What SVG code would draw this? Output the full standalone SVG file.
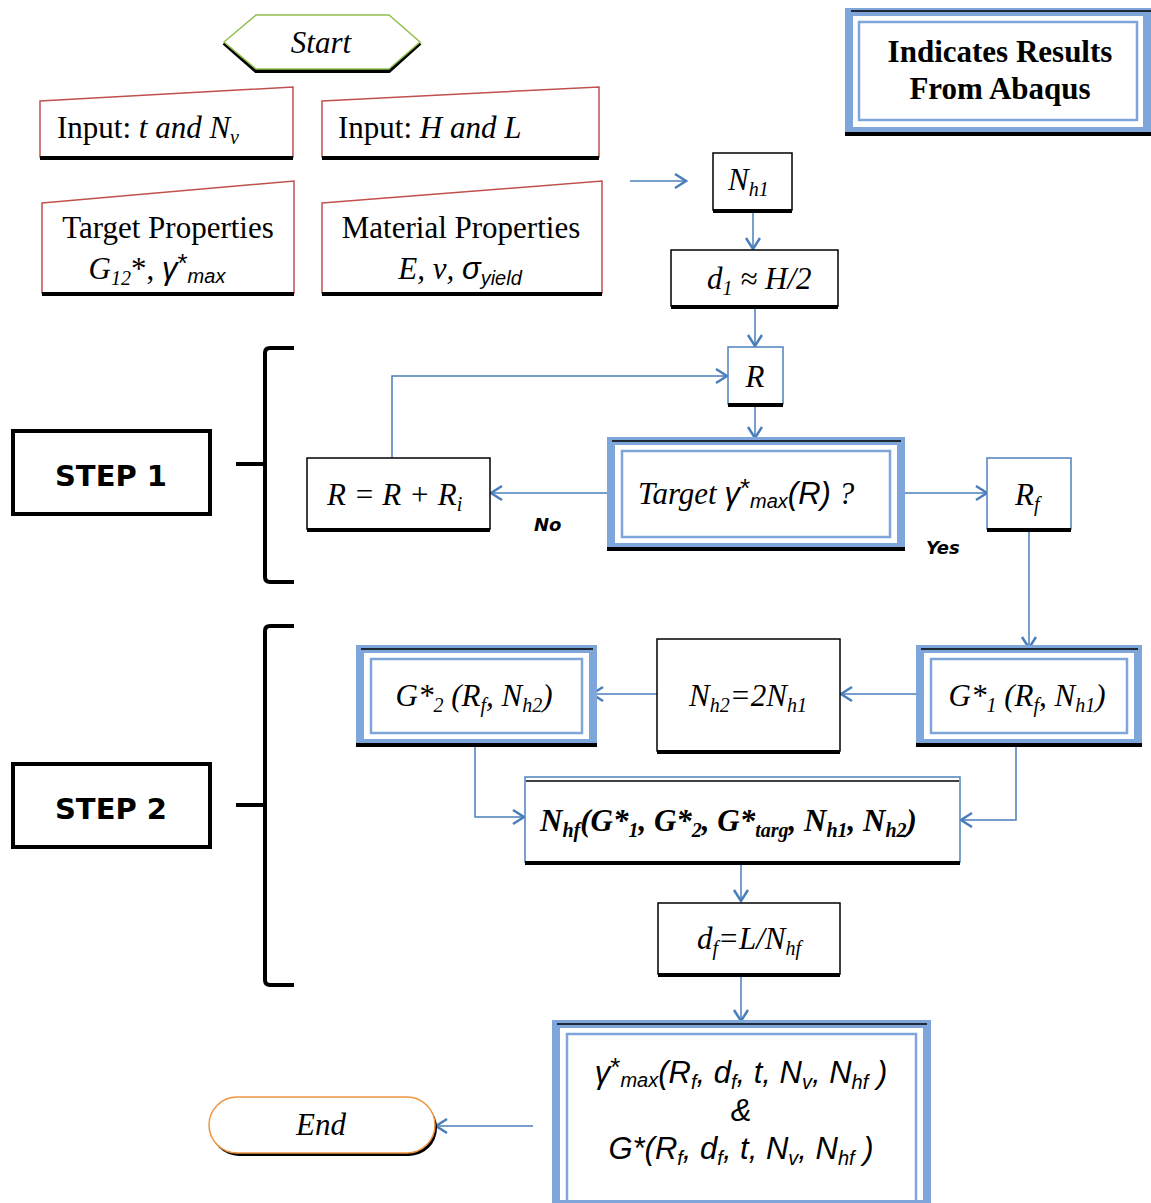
<svg xmlns="http://www.w3.org/2000/svg" width="1151" height="1203" viewBox="0 0 1151 1203">
<style>
.ser{font-family:"Liberation Serif","Times New Roman",serif;font-size:31px;fill:#000}
.it{font-style:italic}
.sans{font-family:"Liberation Sans",Arial,sans-serif}
.sub{font-size:20px}
.ast{font-size:26px}
.box{fill:#fff;stroke:#000;stroke-width:1.5}
.boxb{fill:#fff;stroke:#4f81bd;stroke-width:1.5}
.man{fill:#fff;stroke:#c0504d;stroke-width:1.5}
.sh{stroke:#000;stroke-width:4;fill:none}
.outer{fill:#fff;stroke:#7fa6da;stroke-width:8}
.inner{fill:none;stroke:#7fa6da;stroke-width:2.5}
.thin{stroke:#000;stroke-width:1.5}
.conn{stroke:#4a7ebb;stroke-width:1.5;fill:none}
.arr{marker-end:url(#ah)}
.step{font-family:"DejaVu Sans",Verdana,sans-serif;font-weight:bold;font-size:29px}
.lbl{font-family:"DejaVu Sans",Verdana,sans-serif;font-weight:bold;font-style:italic;font-size:18px}
.brace{fill:none;stroke:#000;stroke-width:4;stroke-linejoin:round}
.res{font-family:"Liberation Sans",Arial,sans-serif;font-style:italic;font-size:31px}
</style>
<defs>
<marker id="ah" markerWidth="20" markerHeight="20" refX="13" refY="8" orient="auto" markerUnits="userSpaceOnUse">
<path d="M2,1 L13,8 L2,15" fill="none" stroke="#4a7ebb" stroke-width="2.5"/>
</marker>
</defs>

<!-- connectors -->
<g id="connectors">
<line class="conn arr" x1="630" y1="181" x2="686" y2="181"/>
<line class="conn arr" x1="753" y1="212" x2="753" y2="249"/>
<line class="conn arr" x1="755" y1="308" x2="755" y2="346"/>
<line class="conn arr" x1="755" y1="407" x2="755" y2="438"/>
<line class="conn arr" x1="607" y1="493" x2="491" y2="493"/>
<polyline class="conn arr" points="392,458 392,376 727,376"/>
<line class="conn arr" x1="905" y1="493" x2="987" y2="493"/>
<line class="conn arr" x1="1029" y1="531" x2="1029" y2="648"/>
<line class="conn arr" x1="916" y1="694" x2="841" y2="694"/>
<line class="conn arr" x1="657" y1="694" x2="592" y2="694"/>
<polyline class="conn arr" points="475,737 475,817 524,817"/>
<polyline class="conn arr" points="1016,737 1016,820 961,820"/>
<line class="conn arr" x1="741" y1="865" x2="741" y2="901"/>
<line class="conn arr" x1="741" y1="976" x2="741" y2="1021"/>
<line class="conn arr" x1="533" y1="1126" x2="436" y2="1126"/>
</g>

<!-- Start -->
<g id="start">
<polyline points="224,43 256,71 389,71 420,43" fill="none" stroke="#000" stroke-width="4"/>
<polygon points="224,42 256,15 389,15 420,42 389,69 256,69" fill="#fff" stroke="#92c050" stroke-width="1.5"/>
<text class="ser it" x="321" y="53" text-anchor="middle">Start</text>
</g>

<!-- Legend -->
<g id="legend">
<rect class="outer" x="849" y="12" width="298" height="119"/>
<rect class="inner" x="859" y="22" width="278" height="98"/>
<line class="thin" x1="851" y1="11" x2="1151" y2="11"/>
<line class="sh" x1="845" y1="134" x2="1151" y2="134"/>
<text class="ser" font-weight="bold" font-size="32.5" x="1000" y="62" text-anchor="middle">Indicates Results</text>
<text class="ser" font-weight="bold" font-size="32.5" x="1000" y="99" text-anchor="middle">From Abaqus</text>
</g>

<!-- Inputs -->
<g id="input-t-nv">
<polygon class="man" points="40,101 293,87 293,157 40,157"/>
<line class="sh" x1="40" y1="158" x2="293" y2="158"/>
<text class="ser" x="57" y="138">Input: <tspan class="it">t and N</tspan><tspan class="it sub" dy="6">v</tspan></text>
</g>
<g id="input-h-l">
<polygon class="man" points="322,101 599,87 599,157 322,157"/>
<line class="sh" x1="322" y1="158" x2="599" y2="158"/>
<text class="ser" x="338" y="138">Input: <tspan class="it">H and L</tspan></text>
</g>
<g id="target-props">
<polygon class="man" points="42,203 294,181 294,293 42,293"/>
<line class="sh" x1="42" y1="294" x2="294" y2="294"/>
<text class="ser" x="168" y="238" text-anchor="middle">Target Properties</text>
<text class="ser" x="157" y="279" text-anchor="middle"><tspan class="it">G</tspan><tspan class="it sub" dy="6">12</tspan><tspan dy="-6">*, </tspan><tspan class="sans it">γ</tspan><tspan class="sans ast" dy="-7">*</tspan><tspan class="sans it sub" dy="11">max</tspan></text>
</g>
<g id="material-props">
<polygon class="man" points="322,203 602,181 602,293 322,293"/>
<line class="sh" x1="322" y1="294" x2="602" y2="294"/>
<text class="ser" x="461" y="238" text-anchor="middle">Material Properties</text>
<text class="ser" x="460" y="279" text-anchor="middle"><tspan class="it">E, ν, </tspan><tspan class="sans it">σ</tspan><tspan class="sans it sub" dy="6">yield</tspan></text>
</g>

<!-- Nh1 -->
<g id="nh1">
<rect class="box" x="713" y="153" width="79" height="57"/>
<line class="sh" x1="713" y1="211" x2="792" y2="211"/>
<text class="ser it" x="728" y="190">N<tspan class="sub" dy="6">h1</tspan></text>
</g>
<g id="d1">
<rect class="box" x="671" y="250" width="167" height="56"/>
<line class="sh" x1="671" y1="307" x2="838" y2="307"/>
<text class="ser it" x="707" y="289">d<tspan class="sub" dy="6">1</tspan><tspan dy="-6"> ≈ H/2</tspan></text>
</g>
<g id="r">
<rect class="boxb" x="728" y="347" width="55" height="57"/>
<line class="sh" x1="728" y1="405" x2="783" y2="405"/>
<text class="ser it" x="755" y="387" text-anchor="middle">R</text>
</g>
<g id="target-check">
<rect class="outer" x="611" y="441" width="290" height="106"/>
<rect class="inner" x="622" y="451" width="268" height="86"/>
<line class="thin" x1="612" y1="441" x2="901" y2="441"/>
<line class="sh" x1="607" y1="549" x2="905" y2="549"/>
<text class="ser" x="638" y="504"><tspan class="it">Target  </tspan><tspan class="sans it">γ</tspan><tspan class="sans ast" dy="-7">*</tspan><tspan class="sans it sub" dy="11">max</tspan><tspan class="sans it" dy="-4">(R)</tspan><tspan class="it"> ?</tspan></text>
</g>
<g id="r-inc">
<rect class="box" x="307" y="458" width="183" height="71"/>
<line class="sh" x1="307" y1="530" x2="490" y2="530"/>
<text class="ser it" x="327" y="505">R = R + R<tspan class="sub" dy="6">i</tspan></text>
</g>
<text class="lbl" x="534" y="531">No</text>
<text class="lbl" x="926" y="554">Yes</text>
<g id="rf">
<rect class="boxb" x="987" y="458" width="84" height="71"/>
<line class="sh" x1="987" y1="530" x2="1071" y2="530"/>
<text class="ser it" x="1015" y="505">R<tspan class="sub" dy="6">f</tspan></text>
</g>

<!-- Step 2 -->
<g id="g1">
<rect class="outer" x="920" y="649" width="218" height="94"/>
<rect class="inner" x="931" y="659" width="196" height="74"/>
<line class="thin" x1="921" y1="649" x2="1138" y2="649"/>
<line class="sh" x1="916" y1="745" x2="1142" y2="745"/>
<text class="ser it" x="1027" y="706" text-anchor="middle">G*<tspan class="sub" dy="6">1</tspan><tspan dy="-6"> (R</tspan><tspan class="sub" dy="6">f</tspan><tspan dy="-6">, N</tspan><tspan class="sub" dy="6">h1</tspan><tspan dy="-6">)</tspan></text>
</g>
<g id="nh2">
<rect class="box" x="657" y="639" width="183" height="112"/>
<line class="sh" x1="657" y1="752" x2="840" y2="752"/>
<text class="ser it" x="748" y="706" text-anchor="middle">N<tspan class="sub" dy="6">h2</tspan><tspan dy="-6">=2N</tspan><tspan class="sub" dy="6">h1</tspan></text>
</g>
<g id="g2">
<rect class="outer" x="360" y="649" width="233" height="94"/>
<rect class="inner" x="371" y="659" width="211" height="74"/>
<line class="thin" x1="361" y1="649" x2="593" y2="649"/>
<line class="sh" x1="356" y1="745" x2="597" y2="745"/>
<text class="ser it" x="474" y="706" text-anchor="middle">G*<tspan class="sub" dy="6">2</tspan><tspan dy="-6"> (R</tspan><tspan class="sub" dy="6">f</tspan><tspan dy="-6">, N</tspan><tspan class="sub" dy="6">h2</tspan><tspan dy="-6">)</tspan></text>
</g>
<g id="nhf">
<rect class="boxb" x="525" y="777" width="435" height="85"/>
<line class="thin" x1="526" y1="781" x2="959" y2="781"/>
<line class="sh" x1="525" y1="863" x2="960" y2="863"/>
<text class="ser it" font-weight="bold" font-size="33" x="540" y="831">N<tspan class="sub" dy="6">hf</tspan><tspan dy="-6">(G*</tspan><tspan class="sub" dy="6">1</tspan><tspan dy="-6">, G*</tspan><tspan class="sub" dy="6">2</tspan><tspan dy="-6">, G*</tspan><tspan class="sub" dy="6">targ</tspan><tspan dy="-6">, N</tspan><tspan class="sub" dy="6">h1</tspan><tspan dy="-6">, N</tspan><tspan class="sub" dy="6">h2</tspan><tspan dy="-6">)</tspan></text>
</g>
<g id="df">
<rect class="box" x="658" y="903" width="182" height="71"/>
<line class="sh" x1="658" y1="975" x2="840" y2="975"/>
<text class="ser it" x="749" y="949" text-anchor="middle">d<tspan class="sub" dy="6">f</tspan><tspan dy="-6">=L/N</tspan><tspan class="sub" dy="6">hf</tspan></text>
</g>
<g id="result">
<rect class="outer" x="556" y="1024" width="371" height="180"/>
<rect class="inner" x="567" y="1034" width="349" height="170"/>
<line class="thin" x1="557" y1="1024" x2="927" y2="1024"/>
<text class="res" x="741" y="1083" text-anchor="middle">γ<tspan class="ast" dy="-7" font-style="normal">*</tspan><tspan class="sub" dy="11">max</tspan><tspan dy="-4">(R</tspan><tspan class="sub" dy="6">f</tspan><tspan dy="-6">, d</tspan><tspan class="sub" dy="6">f</tspan><tspan dy="-6">,  t,  N</tspan><tspan class="sub" dy="6">v</tspan><tspan dy="-6">,  N</tspan><tspan class="sub" dy="6">hf</tspan><tspan dy="-6"> )</tspan></text>
<text class="res" x="741" y="1121" text-anchor="middle">&amp;</text>
<text class="res" x="741" y="1159" text-anchor="middle">G*(R<tspan class="sub" dy="6">f</tspan><tspan dy="-6">, d</tspan><tspan class="sub" dy="6">f</tspan><tspan dy="-6">,  t,  N</tspan><tspan class="sub" dy="6">v</tspan><tspan dy="-6">,  N</tspan><tspan class="sub" dy="6">hf</tspan><tspan dy="-6"> )</tspan></text>
</g>
<g id="end">
<rect x="211" y="1100" width="226" height="56" rx="28" fill="#000"/>
<rect x="209" y="1097" width="226" height="56" rx="28" fill="#fff" stroke="#f0953e" stroke-width="1.5"/>
<text class="ser it" x="321" y="1135" text-anchor="middle">End</text>
</g>

<!-- Step labels -->
<g id="step1">
<rect x="13" y="431" width="197" height="83" fill="#fff" stroke="#000" stroke-width="4"/>
<text class="step" x="111" y="486" text-anchor="middle">STEP 1</text>
<path class="brace" d="M294,348 L270,348 Q265,348 265,353 L265,577 Q265,582 270,582 L294,582 M236,464 L265,464"/>
</g>
<g id="step2">
<rect x="13" y="764" width="197" height="83" fill="#fff" stroke="#000" stroke-width="4"/>
<text class="step" x="111" y="819" text-anchor="middle">STEP 2</text>
<path class="brace" d="M294,626 L270,626 Q265,626 265,631 L265,980 Q265,985 270,985 L294,985 M236,805 L265,805"/>
</g>
</svg>
